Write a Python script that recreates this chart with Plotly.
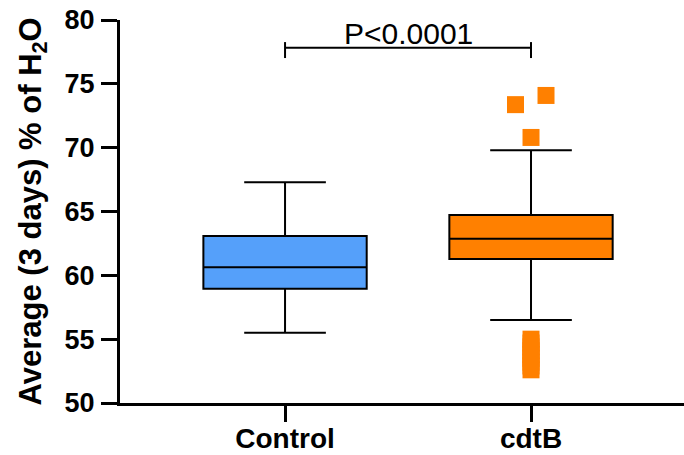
import plotly.graph_objects as go

categories = ["Control", "cdtB"]
q1 = [58.95, 61.28]
median = [60.63, 62.87]
q3 = [63.08, 64.73]
lower_whisker = [55.51, 56.5]
upper_whisker = [67.29, 69.79]
box_colors = ["#55A0FA", "#FF8000"]

# cdtB outliers (x offset within category, value)
outlier_x = [0.937, 1.061, 1.0, 1.0, 1.0, 1.0, 1.0, 1.0, 1.0, 1.0, 1.0, 1.0]
outlier_y = [73.37, 74.09, 70.8, 55.0, 54.7, 54.4, 54.1, 53.8, 53.5, 53.2, 52.9, 52.6]

p_text = "P<0.0001"

FONT = "Arial, Liberation Sans, sans-serif"

fig = go.Figure()
for i, name in enumerate(categories):
    fig.add_trace(go.Box(
        x=[i], q1=[q1[i]], median=[median[i]], q3=[q3[i]],
        lowerfence=[lower_whisker[i]], upperfence=[upper_whisker[i]],
        width=0.664, whiskerwidth=0.5,
        fillcolor=box_colors[i], line=dict(color="black", width=2),
        boxpoints=False, showlegend=False, hoverinfo="skip",
    ))

fig.add_trace(go.Scatter(
    x=outlier_x, y=outlier_y, mode="markers",
    marker=dict(symbol="square", size=17, color="#FF8000", line=dict(width=0)),
    showlegend=False, cliponaxis=False,
))

# significance bracket
line_style = dict(color="black", width=2)
fig.add_shape(type="line", x0=0, x1=1, y0=77.83, y1=77.83, xref="x", yref="y", line=line_style)
fig.add_shape(type="line", x0=0, x1=0, y0=77.02, y1=78.27, xref="x", yref="y", line=line_style)
fig.add_shape(type="line", x0=1, x1=1, y0=77.02, y1=78.27, xref="x", yref="y", line=line_style)
fig.add_annotation(x=0.5, y=78.95, xref="x", yref="y", text=p_text, showarrow=False,
                   font=dict(family=FONT, size=30, color="black"), yanchor="middle")

# y title
fig.add_annotation(x=0, y=0.5, xref="paper", yref="paper", xshift=-88,
                   text="<b>Average (3 days) % of H<sub>2</sub>O</b>", textangle=-90,
                   showarrow=False, xanchor="center", yanchor="middle",
                   font=dict(family=FONT, size=31, color="black"))

fig.update_layout(
    width=684, height=455,
    margin=dict(l=120, r=0, t=20, b=52),
    plot_bgcolor="white", paper_bgcolor="white",
    xaxis=dict(
        range=[-0.671, 1.622], tickvals=[0, 1],
        ticktext=["<b>%s</b>" % c for c in categories],
        showline=True, linecolor="black", linewidth=3,
        ticks="outside", ticklen=16, tickwidth=3, tickcolor="black",
        showgrid=False, zeroline=False, automargin=False,
        ticklabelstandoff=-8,
        tickfont=dict(family=FONT, size=28, color="black"),
    ),
    yaxis=dict(
        range=[50, 80], tickvals=[50, 55, 60, 65, 70, 75, 80],
        ticktext=["<b>%d</b>" % v for v in [50, 55, 60, 65, 70, 75, 80]],
        showline=True, linecolor="black", linewidth=3,
        ticks="outside", ticklen=16, tickwidth=3, tickcolor="black",
        showgrid=False, zeroline=False, automargin=False,
        ticklabelstandoff=1,
        tickfont=dict(family=FONT, size=27, color="black"),
    ),
)

fig.write_html("out.html")
